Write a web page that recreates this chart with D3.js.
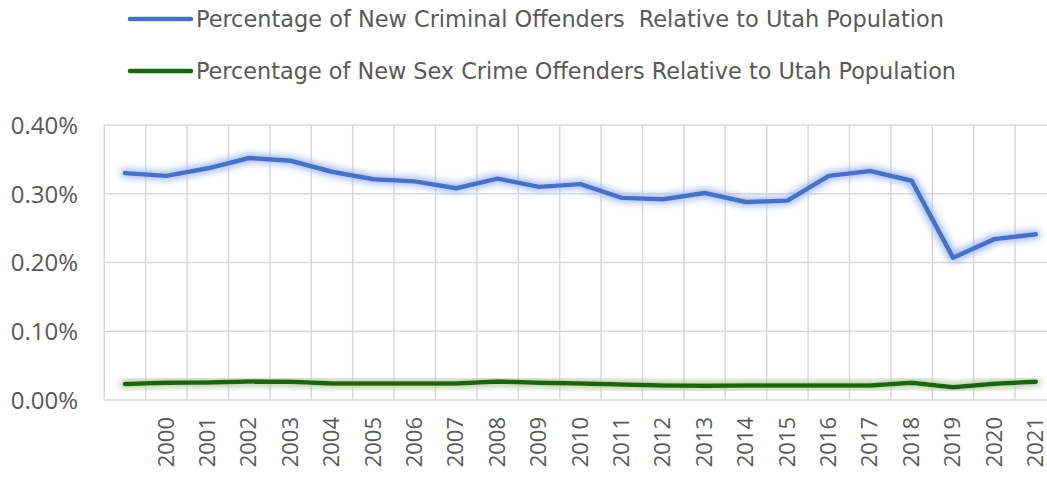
<!DOCTYPE html>
<html>
<head>
<meta charset="utf-8">
<script src="https://cdn.jsdelivr.net/npm/d3@7"></script>
<style>
  body { margin: 0; background: #fff; overflow: hidden; }
  text { font-family: "DejaVu Sans Condensed", "Open Sans", sans-serif; fill: #595959; }
</style>
</head>
<body>
<div id="chart"></div>
<script>
// years (first category has no label in the original)
var years = ["", "2000", "2001", "2002", "2003", "2004", "2005", "2006", "2007", "2008", "2009",
  "2010", "2011", "2012", "2013", "2014", "2015", "2016", "2017", "2018", "2019", "2020", "2021"];

// percent of Utah population
var criminal = [0.330, 0.326, 0.337, 0.352, 0.348, 0.332, 0.321, 0.318, 0.308, 0.322, 0.310,
  0.314, 0.294, 0.292, 0.301, 0.288, 0.290, 0.326, 0.333, 0.319, 0.207, 0.234, 0.241];
var sexCrime = [0.0233, 0.0252, 0.0255, 0.0270, 0.0265, 0.0240, 0.0240, 0.0240, 0.0240, 0.0270, 0.0250,
  0.0240, 0.0225, 0.0212, 0.0208, 0.0210, 0.0210, 0.0212, 0.0210, 0.0252, 0.0184, 0.0237, 0.0267];

var yTicks = [0, 0.1, 0.2, 0.3, 0.4];

var seriesNames = [
  "Percentage of New Criminal Offenders  Relative to Utah Population",
  "Percentage of New Sex Crime Offenders Relative to Utah Population"
];
var seriesColors = ["#4472c4", "#1e6410"];
var glowColors = ["#a3b9f2", "#abcb99"];

function init() {
  var w = 1047, h = 478;
  var left = 104.3, top = 125, bottom = 400;
  var band = 41.4;
  var right = left + band * years.length;

  var svg = d3.select("#chart").append("svg")
    .attr("width", w)
    .attr("height", h);

  var defs = svg.append("defs");
  glowColors.forEach(function(c, i) {
    var f = defs.append("filter").attr("id", "glow" + i)
      .attr("x", "-5%").attr("y", "-50%").attr("width", "110%").attr("height", "200%");
    f.append("feMorphology").attr("in", "SourceAlpha").attr("operator", "dilate").attr("radius", 1.5).attr("result", "d");
    f.append("feGaussianBlur").attr("in", "d").attr("stdDeviation", 3.5).attr("result", "b");
    f.append("feFlood").attr("flood-color", c).attr("flood-opacity", 1);
    f.append("feComposite").attr("in2", "b").attr("operator", "in").attr("result", "g");
    var m = f.append("feMerge");
    m.append("feMergeNode").attr("in", "g");
    m.append("feMergeNode").attr("in", "SourceGraphic");
  });

  var x = d3.scaleBand()
    .domain(d3.range(years.length))
    .range([left, right]);

  var y = d3.scaleLinear()
    .domain([0, 0.4])
    .range([bottom, top]);

  // horizontal gridlines
  svg.append("g").selectAll("line")
    .data(yTicks)
    .enter().append("line")
    .attr("x1", left).attr("x2", right)
    .attr("y1", function(d) { return y(d); })
    .attr("y2", function(d) { return y(d); })
    .attr("stroke", "#d9d9d9")
    .attr("stroke-width", 1.5);

  // vertical gridlines at band edges
  svg.append("g").selectAll("line")
    .data(d3.range(years.length + 1))
    .enter().append("line")
    .attr("x1", function(i) { return left + i * band; })
    .attr("x2", function(i) { return left + i * band; })
    .attr("y1", top).attr("y2", bottom)
    .attr("stroke", "#d9d9d9")
    .attr("stroke-width", 1.5);

  // y axis
  var yAxis = d3.axisLeft(y)
    .tickValues(yTicks)
    .tickSize(0)
    .tickPadding(0)
    .tickFormat(function(d) { return d.toFixed(2) + "%"; });
  var gy = svg.append("g").attr("transform", "translate(78,0)").call(yAxis);
  gy.select(".domain").remove();
  gy.selectAll("text")
    .attr("font-size", 24)
    .attr("dy", "0.35em")
    .style("font-family", "'Open Sans', sans-serif");

  // x axis, vertical labels
  var xAxis = d3.axisBottom(x)
    .tickSize(0)
    .tickFormat(function(i) { return years[i]; });
  var gx = svg.append("g").attr("transform", "translate(0," + bottom + ")").call(xAxis);
  gx.select(".domain").remove();
  gx.selectAll("text")
    .attr("font-size", 22)
    .attr("text-anchor", "end")
    .attr("transform", "rotate(-90)")
    .attr("x", -17)
    .attr("y", 0)
    .attr("dy", "0.33em")
    .style("font-family", "'Open Sans', sans-serif");

  var line = d3.line()
    .x(function(d, i) { return x(i) + x.bandwidth() / 2; })
    .y(function(d) { return y(d); });

  [criminal, sexCrime].forEach(function(s, k) {
    svg.append("path")
      .datum(s)
      .attr("d", line)
      .attr("fill", "none")
      .attr("stroke", seriesColors[k])
      .attr("stroke-width", 4.5)
      .attr("stroke-linejoin", "round")
      .attr("stroke-linecap", "round")
      .attr("filter", "url(#glow" + k + ")");
  });

  // legend
  var legendWidths = [748, 760];
  var lg = svg.append("g");
  seriesNames.forEach(function(name, k) {
    var ly = 19 + k * 52;
    lg.append("line")
      .attr("x1", 130).attr("x2", 191)
      .attr("y1", ly).attr("y2", ly)
      .attr("stroke", seriesColors[k])
      .attr("stroke-width", 4.5)
      .attr("stroke-linecap", "round");
    lg.append("text")
      .attr("x", 196).attr("y", ly)
      .attr("dy", "0.35em")
      .attr("font-size", 23)
      .attr("textLength", legendWidths[k])
      .attr("lengthAdjust", "spacingAndGlyphs")
      .style("white-space", "pre")
      .text(name);
  });
}

window.onload = init;
</script>
</body>
</html>
